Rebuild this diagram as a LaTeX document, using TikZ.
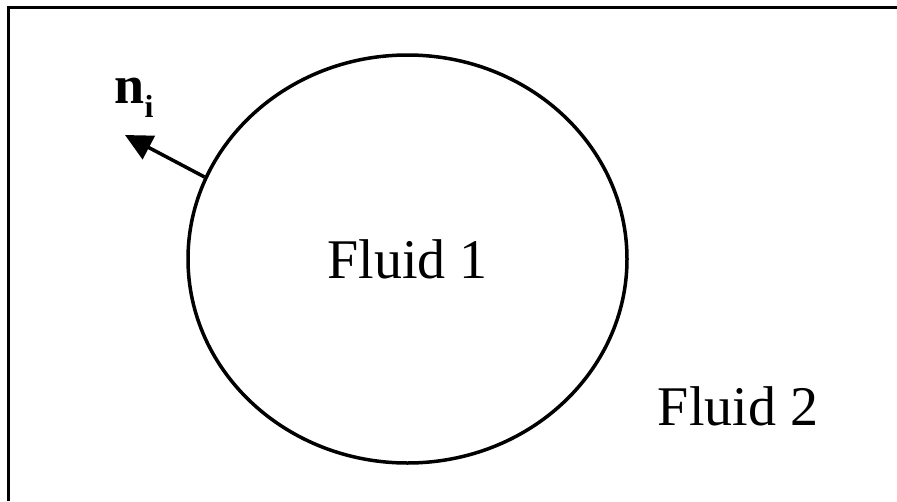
\documentclass[tikz,border=0pt]{standalone}
\usepackage{fontspec}
\setmainfont{Liberation Serif}
\usetikzlibrary{shapes.geometric,arrows.meta}

\tikzset{
  fluidlabel/.style={font=\fontsize{56}{60}\selectfont},
  interface/.style={draw,ellipse,line width=3.5pt,minimum width=439pt,minimum height=408pt,inner sep=0pt},
  normalvec/.style={line width=3.5pt,-{Triangle[length=27pt,width=26pt]}}
}

\begin{document}
\begin{tikzpicture}[x=1pt,y=-1pt]
    \useasboundingbox (0,0) rectangle (897,501);
    \draw [line width=3pt] (8,501) -- (8,7) -- (897,7);

    \node (F1) [interface,fluidlabel] at (407.5,259) {Fluid 1};
    \node (F2) [fluidlabel,anchor=base] at (738,425) {Fluid 2};
    \node (ni) [anchor=base,inner sep=0pt] at (134,103)
        {\fontsize{54}{58}\selectfont\textbf{n}\raisebox{-14pt}{\fontsize{32}{34}\selectfont\textbf{i}}};
    \coordinate (tip) at (125,135);

    \draw [normalvec] (F1.158) -- (tip);
\end{tikzpicture}
\end{document}
